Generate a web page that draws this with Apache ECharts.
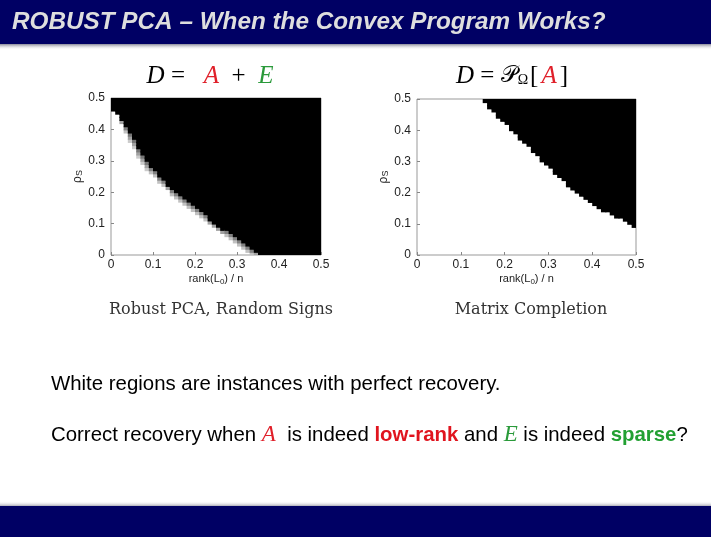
<!DOCTYPE html>
<html>
<head>
<meta charset="utf-8">
<script src="https://cdn.jsdelivr.net/npm/echarts@6/dist/echarts.min.js"></script>
<style>
html,body{margin:0;padding:0;background:#fff}
#slide{width:711px;height:537px}
</style>
</head>
<body>
<div id="slide"></div>
<script>
var rankTicks = [0, 0.1, 0.2, 0.3, 0.4, 0.5];
var rhoTicks = [0, 0.1, 0.2, 0.3, 0.4, 0.5];
var cellSize = 0.01;
// rho_s where failure (black) starts, one value per rank(L0)/n column
var robustEdge = [0.46,0.45,0.43,0.41,0.39,0.37,0.34,0.32,0.30,0.28,
                  0.27,0.25,0.24,0.22,0.21,0.20,0.19,0.18,0.17,0.16,
                  0.15,0.14,0.13,0.11,0.10,0.09,0.08,0.08,0.07,0.06,
                  0.05,0.04,0.03,0.02,0.01,0,0,0,0,0,
                  0,0,0,0,0,0,0,0,0,0];
// rho_s where clean success (white) ends, grey in between
var robustSoft = [0.46,0.45,0.42,0.39,0.36,0.34,0.31,0.29,0.27,0.26,
                  0.25,0.23,0.22,0.21,0.19,0.18,0.17,0.16,0.15,0.14,
                  0.13,0.12,0.11,0.10,0.09,0.08,0.07,0.06,0.05,0.04,
                  0.03,0.02,0.01,0,0,0,0,0,0,0,
                  0,0,0,0,0,0,0,0,0,0];
var completionEdge = [0.6,0.6,0.6,0.6,0.6,0.6,0.6,0.6,0.6,0.6,
                      0.6,0.6,0.6,0.6,0.6,0.49,0.47,0.46,0.44,0.43,
                      0.42,0.40,0.39,0.37,0.36,0.35,0.33,0.32,0.30,0.29,
                      0.28,0.26,0.25,0.24,0.22,0.21,0.20,0.19,0.18,0.17,
                      0.16,0.15,0.14,0.14,0.13,0.12,0.12,0.11,0.10,0.09];

function buildCells(edge, soft) {
    var cells = [];
    for (var i = 0; i < edge.length; i++) {
        for (var j = 0; j < 50; j++) {
            var y = (j + 0.5) * cellSize;
            if (y >= edge[i]) {
                cells.push([i * cellSize, j * cellSize, 1]);
            } else if (soft && y >= soft[i]) {
                var t = (y - soft[i]) / (edge[i] - soft[i]);
                cells.push([i * cellSize, j * cellSize, 0.12 + 0.5 * t]);
            }
        }
    }
    return cells;
}

function renderCell(params, api) {
    var p0 = api.coord([api.value(0), api.value(1) + cellSize]);
    var p1 = api.coord([api.value(0) + cellSize, api.value(1)]);
    var g = Math.round(255 * (1 - api.value(2)));
    return {
        type: 'rect',
        shape: {x: p0[0], y: p0[1], width: p1[0] - p0[0] + 1, height: p1[1] - p0[1] + 1},
        style: {fill: 'rgb(' + g + ',' + g + ',' + g + ')'}
    };
}

var axisFont = 'Liberation Sans';
function makeX(idx) {
    return {
        gridIndex: idx, type: 'value', min: 0, max: 0.5, interval: 0.1,
        name: '{n|rank(L}{s|0}{n|) / n}', nameLocation: 'middle', nameGap: 17,
        nameTextStyle: {rich: {
            n: {fontFamily: axisFont, fontSize: 11, color: '#222'},
            s: {fontFamily: axisFont, fontSize: 8, color: '#222', padding: [6, 0, 0, 0]}
        }},
        axisLine: {show: false},
        axisTick: {inside: true, length: 3, lineStyle: {color: '#888'}},
        axisLabel: {fontFamily: axisFont, fontSize: 12, color: '#222', margin: 4,
                    formatter: function (v) { return v === 0 ? '0' : v.toFixed(1); }},
        splitLine: {show: false}
    };
}
function makeY(idx) {
    return {
        gridIndex: idx, type: 'value', min: 0, max: 0.5, interval: 0.1,
        name: '{n|ρ}{s|S}', nameLocation: 'middle', nameGap: 24, nameRotate: 90,
        nameTextStyle: {rich: {
            n: {fontFamily: axisFont, fontSize: 12, color: '#222'},
            s: {fontFamily: axisFont, fontSize: 9, color: '#222', padding: [4, 0, 0, 0]}
        }},
        axisLine: {show: false},
        axisTick: {inside: true, length: 3, lineStyle: {color: '#888'}},
        axisLabel: {fontFamily: axisFont, fontSize: 12, color: '#222', margin: 6,
                    formatter: function (v) { return v === 0 ? '0' : v.toFixed(1); }},
        splitLine: {show: false}
    };
}

var slide = echarts.init(document.getElementById('slide'));
var navy = '#000064';
var serif = 'Liberation Serif';
var sans = 'Liberation Sans';
var red = '#e0202a';
var green = '#2a9a3a';

option = {
    backgroundColor: '#fff',
    animation: false,
    grid: [
        {left: 111, top: 98, width: 210, height: 157, show: true, borderColor: '#999', borderWidth: 1},
        {left: 417, top: 99, width: 219, height: 156, show: true, borderColor: '#999', borderWidth: 1}
    ],
    xAxis: [makeX(0), makeX(1)],
    yAxis: [makeY(0), makeY(1)],
    series: [
        {type: 'custom', xAxisIndex: 0, yAxisIndex: 0, renderItem: renderCell, clip: true,
         data: buildCells(robustEdge, robustSoft), silent: true},
        {type: 'custom', xAxisIndex: 1, yAxisIndex: 1, renderItem: renderCell, clip: true,
         data: buildCells(completionEdge, null), silent: true}
    ],
    graphic: [
        // title bar
        {type: 'rect', z: 10, shape: {x: 0, y: 0, width: 711, height: 44}, style: {fill: navy}},
        {type: 'rect', z: 10, shape: {x: 0, y: 44, width: 711, height: 6},
         style: {fill: new echarts.graphic.LinearGradient(0, 0, 0, 1,
             [{offset: 0, color: '#8a8a9a'}, {offset: 1, color: 'rgba(255,255,255,0)'}])}},
        {type: 'text', z: 11, x: 12, y: 22,
         style: {text: 'ROBUST PCA – When the Convex Program Works?', fill: '#dedede',
                 font: 'italic bold 24.3px "Liberation Sans"', textVerticalAlign: 'middle'}},
        // bottom bar
        {type: 'rect', z: 10, shape: {x: 0, y: 501, width: 711, height: 6},
         style: {fill: new echarts.graphic.LinearGradient(0, 0, 0, 1,
             [{offset: 0, color: 'rgba(255,255,255,0)'}, {offset: 1, color: '#8a8a9a'}])}},
        {type: 'rect', z: 10, shape: {x: 0, y: 506, width: 711, height: 31}, style: {fill: navy}},
        // panel headings
        {type: 'text', x: 210, y: 76,
         style: {text: '{k|D}{o| =   }{a|A}{o|  +  }{e|E}', textAlign: 'center', textVerticalAlign: 'middle',
                 rich: {
                     k: {fontFamily: serif, fontStyle: 'italic', fontSize: 25, fill: '#000'},
                     o: {fontFamily: serif, fontSize: 25, fill: '#000'},
                     a: {fontFamily: serif, fontStyle: 'italic', fontSize: 25, fill: red},
                     e: {fontFamily: serif, fontStyle: 'italic', fontSize: 25, fill: green}
                 }}},
        {type: 'text', x: 512, y: 76,
         style: {text: '{k|D}{o| = }{p|𝒫}{w|Ω}{o|[}{a|A}{o|]}', textAlign: 'center', textVerticalAlign: 'middle',
                 rich: {
                     k: {fontFamily: serif, fontStyle: 'italic', fontSize: 25, fill: '#000'},
                     o: {fontFamily: serif, fontSize: 25, fill: '#000'},
                     p: {fontFamily: 'DejaVu Serif', fontSize: 23, fill: '#000'},
                     w: {fontFamily: serif, fontSize: 14, fill: '#000', padding: [8, 2, 0, 0]},
                     a: {fontFamily: serif, fontStyle: 'italic', fontSize: 25, fill: red, padding: [0, 3, 0, 3]}
                 }}},
        // captions
        {type: 'text', x: 221, y: 310,
         style: {text: 'Robust PCA, Random Signs', fill: '#333', font: '16px "DejaVu Serif"',
                 textAlign: 'center', textVerticalAlign: 'middle'}},
        {type: 'text', x: 531, y: 310,
         style: {text: 'Matrix Completion', fill: '#333', font: '16px "DejaVu Serif"',
                 textAlign: 'center', textVerticalAlign: 'middle'}},
        // body text
        {type: 'text', x: 51, y: 384,
         style: {text: 'White regions are instances with perfect recovery.', fill: '#000',
                 font: '20.4px "Liberation Sans"', textVerticalAlign: 'middle'}},
        {type: 'text', x: 51, y: 435,
         style: {text: '{n|Correct recovery when }{a|A}{n|  is indeed }{r|low-rank}{n| and }{e|E}{n| is indeed }{g|sparse}{n|?}',
                 textVerticalAlign: 'middle',
                 rich: {
                     n: {fontFamily: sans, fontSize: 20.4, fill: '#000'},
                     a: {fontFamily: serif, fontStyle: 'italic', fontSize: 23, fill: red},
                     e: {fontFamily: serif, fontStyle: 'italic', fontSize: 23, fill: green},
                     r: {fontFamily: sans, fontWeight: 'bold', fontSize: 20.4, fill: '#e0141e'},
                     g: {fontFamily: sans, fontWeight: 'bold', fontSize: 20.4, fill: '#22a032'}
                 }}}
    ]
};
slide.setOption(option);
</script>
</body>
</html>
